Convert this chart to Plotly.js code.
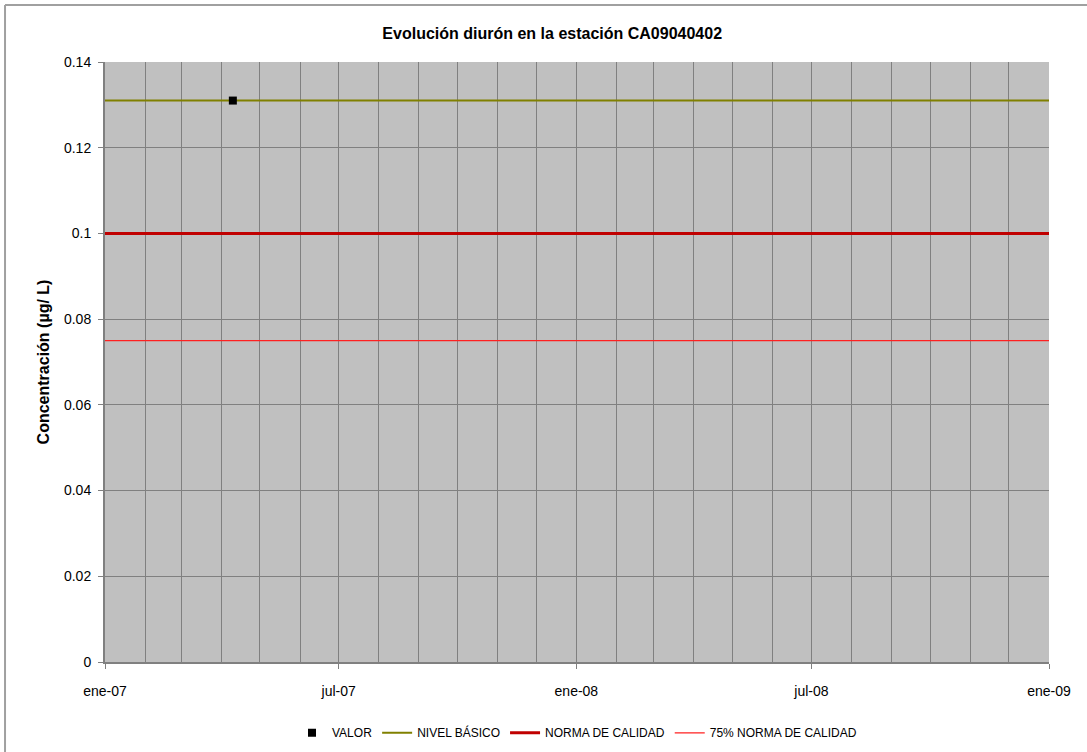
<!DOCTYPE html>
<html>
<head>
<meta charset="utf-8">
<script src="https://cdn.plot.ly/plotly-3.0.1.min.js"></script>
<style>html,body{margin:0;padding:0;background:#fff;}#chart{width:1087px;height:752px;}</style>
</head>
<body>
<div id="chart"></div>
<script>
// Data
const valorDates = ['2007-04-10'];
const valorValues = [0.131];
const lineDates = ['2007-01-01', '2009-01-01'];
const nivelBasico = [0.131, 0.131];
const normaCalidad = [0.1, 0.1];
const norma75 = [0.075, 0.075];
const tickVals = ['2007-01-01', '2007-07-01', '2008-01-01', '2008-07-01', '2009-01-01'];
const tickLabels = ['ene-07', 'jul-07', 'ene-08', 'jul-08', 'ene-09'];

const FONT = 'Liberation Sans, Arial, sans-serif';

const traces = [
  {x: lineDates, y: nivelBasico, mode: 'lines', name: 'NIVEL BÁSICO',
   line: {color: '#808000', width: 2}, legendrank: 2},
  {x: lineDates, y: normaCalidad, mode: 'lines', name: 'NORMA DE CALIDAD',
   line: {color: '#C00000', width: 3}, legendrank: 3},
  {x: lineDates, y: norma75, mode: 'lines', name: '75% NORMA DE CALIDAD',
   line: {color: '#FF2020', width: 1.3}, legendrank: 4},
  {x: valorDates, y: valorValues, mode: 'markers', name: 'VALOR',
   marker: {symbol: 'square', color: '#000000', size: 8}, legendrank: 1}
];

const layout = {
  width: 1087, height: 752,
  margin: {l: 105, r: 38, t: 62, b: 90, autoexpand: false},
  paper_bgcolor: '#ffffff',
  plot_bgcolor: '#C0C0C0',
  font: {family: FONT, color: '#000000', size: 14},
  title: {
    text: '<b>Evolución diurón en la estación CA09040402</b>',
    font: {family: FONT, size: 16, color: '#000'},
    x: 0.508, xref: 'container', xanchor: 'center',
    y: 1 - 33/752, yref: 'container', yanchor: 'middle'
  },
  xaxis: {
    type: 'date',
    range: ['2007-01-01', '2009-01-01'],
    tickmode: 'array', tickvals: tickVals, ticktext: tickLabels,
    ticks: 'outside', ticklen: 5, tickcolor: '#808080', tickwidth: 1,
    ticklabelstandoff: 10,
    showgrid: true, gridcolor: '#808080', gridwidth: 1,
    minor: {dtick: 'M1', tick0: '2007-01-01', showgrid: true, gridcolor: '#808080', gridwidth: 1, ticks: ''},
    showline: true, linecolor: '#808080', linewidth: 2,
    zeroline: false, automargin: false,
    tickfont: {family: FONT, size: 14, color: '#000'}
  },
  yaxis: {
    range: [0, 0.14], dtick: 0.02, tick0: 0,
    ticks: 'outside', ticklen: 5, tickcolor: '#808080', tickwidth: 1,
    ticklabelstandoff: 4,
    showgrid: true, gridcolor: '#808080', gridwidth: 1,
    showline: true, linecolor: '#808080', linewidth: 2,
    zeroline: false, automargin: false,
    tickfont: {family: FONT, size: 14, color: '#000'},
    title: {text: '<b>Concentración (µg/ L)</b>', font: {family: FONT, size: 16, color: '#000'}, standoff: 10}
  },
  showlegend: true,
  legend: {
    orientation: 'h', x: 0.5, xanchor: 'center', y: -0.118, yanchor: 'middle',
    font: {family: FONT, size: 12, color: '#000'},
    bgcolor: 'rgba(0,0,0,0)', itemwidth: 30, traceorder: 'normal'
  },
  shapes: [
    {type: 'line', xref: 'paper', yref: 'paper', x0: -0.1059, x1: -0.1059, y0: -0.16, y1: 1.095,
     line: {color: '#A0A0A0', width: 2}},
    {type: 'line', xref: 'paper', yref: 'paper', x0: -0.1059, x1: 1.05, y0: 1.095, y1: 1.095,
     line: {color: '#A0A0A0', width: 2}}
  ]
};

Plotly.newPlot('chart', traces, layout, {displayModeBar: false, staticPlot: true});
</script>
</body>
</html>
